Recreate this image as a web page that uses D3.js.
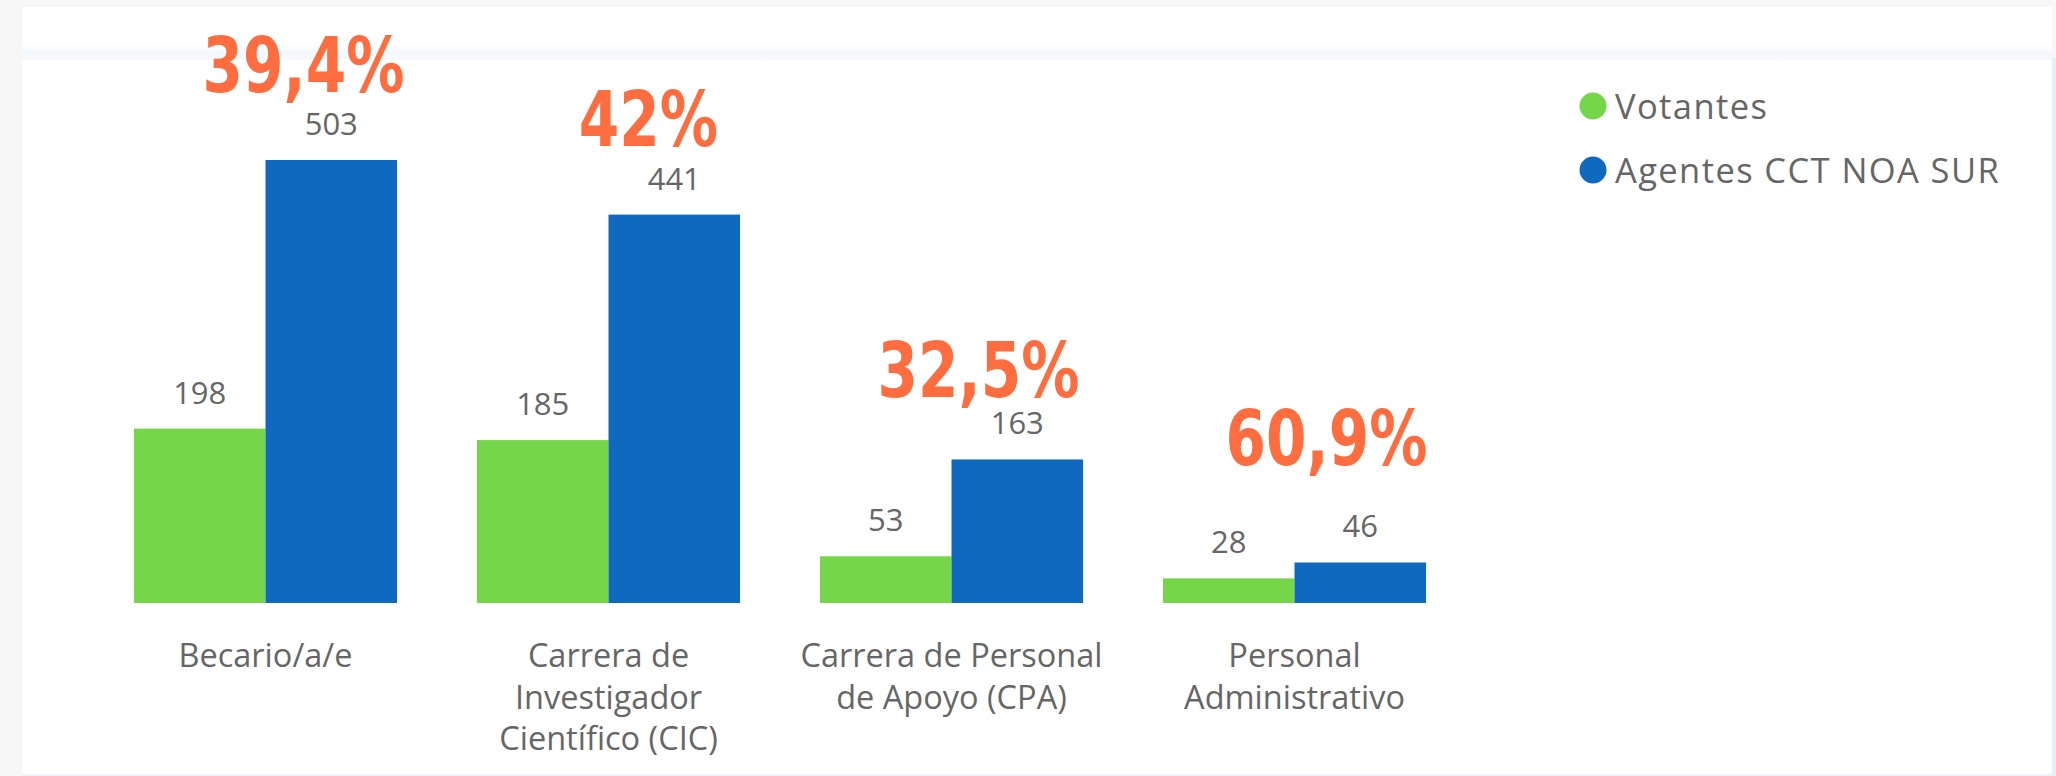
<!DOCTYPE html>
<html>
<head>
<meta charset="utf-8">
<script src="https://cdn.jsdelivr.net/npm/d3@7"></script>
<style>
	body { margin: 0; background: #f7f7f7; }
	svg { display: block; }
	.c-bars__label { font-family: "Open Sans", "Noto Sans", sans-serif; fill: #666; }
	.c-bars__cat { font-family: "Open Sans", "Noto Sans", sans-serif; fill: #666; }
	.c-bars__legend { font-family: "Open Sans", "Noto Sans", sans-serif; fill: #666; }
	.c-bars__pct { font-family: "Liberation Sans Narrow", "Arial Narrow", "DejaVu Sans Condensed", sans-serif; font-weight: bold; fill: #fd6d3f; }
</style>
</head>
<body>
<svg id="chart" width="2056" height="776"></svg>
<script>
//Chart values
var categories = ["Becario/a/e", "Carrera de Investigador Científico (CIC)", "Carrera de Personal de Apoyo (CPA)", "Personal Administrativo"];
var catLines = [["Becario/a/e"], ["Carrera de", "Investigador", "Científico (CIC)"], ["Carrera de Personal", "de Apoyo (CPA)"], ["Personal", "Administrativo"]];
var seriesNames = ["Votantes", "Agentes CCT NOA SUR"];
var votantes = [198, 185, 53, 28];
var agentes = [503, 441, 163, 46];
var pctLabels = ["39,4%", "42%", "32,5%", "60,9%"];

//Hand placed offsets of the percentage notes (from group centre / blue bar top)
var pctNudge = [[38, -68], [40, -69], [27, -62], [32, -97]];

var chart = {
	classPrefix: "c-bars",
	colors: ["#75d64a", "#0e69bf"],
	draw: function(){
		var self = this;
		var svg = d3.select("#chart");
		var width = 2056, height = 776;

		//Panel background
		var grad = svg.append("defs").append("linearGradient")
			.attr("id", "sep").attr("x1", 0).attr("y1", 0).attr("x2", 0).attr("y2", 1);
		grad.append("stop").attr("offset", "0%").attr("stop-color", "#fff");
		grad.append("stop").attr("offset", "60%").attr("stop-color", "#f3f7fb");
		grad.append("stop").attr("offset", "100%").attr("stop-color", "#f8fafd");

		svg.append("rect").attr("x", 22).attr("y", 7).attr("width", width - 26).attr("height", height - 7).attr("fill", "#fff");
		svg.append("rect").attr("x", 22).attr("y", 44).attr("width", width - 26).attr("height", 16).attr("fill", "url(#sep)");
		svg.append("rect").attr("x", width - 4).attr("y", 58).attr("width", 4).attr("height", height - 58).attr("fill", "#e4edf8");
		svg.append("rect").attr("x", 22).attr("y", height - 2).attr("width", width - 26).attr("height", 2).attr("fill", "#eef3f9");

		var rows = categories.map(function(c, i){
			return {key: c, i: i, vals: [votantes[i], agentes[i]]};
		});

		//Scales
		var baseline = 603;
		var xScale = d3.scaleBand()
			.domain(categories)
			.range([94, 1466])
			.paddingInner(0.233)
			.paddingOuter(0.1165);
		var xSub = d3.scaleBand()
			.domain([0, 1])
			.range([0, xScale.bandwidth()]);
		var yScale = d3.scaleLinear()
			.domain([0, 503])
			.range([baseline, 160]);

		//Bars
		var groups = svg.append("g")
			.attr("class", self.classPrefix + "__bars")
			.selectAll("g")
			.data(rows)
			.enter().append("g")
			.attr("transform", function(d){ return "translate(" + xScale(d.key) + ",0)"; });

		groups.selectAll("rect")
			.data(function(d){ return d.vals; })
			.enter().append("rect")
			.attr("x", function(d, j){ return xSub(j); })
			.attr("y", function(d){ return yScale(d); })
			.attr("width", xSub.bandwidth())
			.attr("height", function(d){ return yScale(0) - yScale(d); })
			.attr("fill", function(d, j){ return self.colors[j]; });

		//Data labels
		groups.selectAll("text")
			.data(function(d){ return d.vals; })
			.enter().append("text")
			.attr("class", self.classPrefix + "__label")
			.attr("x", function(d, j){ return xSub(j) + xSub.bandwidth() / 2; })
			.attr("y", function(d){ return yScale(d) - 25; })
			.attr("text-anchor", "middle")
			.attr("font-size", 31)
			.text(function(d){ return d; });

		//Category labels, wrapped like the original
		var cats = svg.append("g").selectAll("text")
			.data(rows)
			.enter().append("text")
			.attr("class", self.classPrefix + "__cat")
			.attr("text-anchor", "middle")
			.attr("font-size", 32.5)
			.attr("transform", function(d){ return "translate(" + (xScale(d.key) + xScale.bandwidth() / 2) + ",667)"; });
		cats.selectAll("tspan")
			.data(function(d){ return catLines[d.i]; })
			.enter().append("tspan")
			.attr("x", 0)
			.attr("y", function(d, k){ return k * 41.5; })
			.text(function(d){ return d; });

		//Percentage notes, squeezed to look condensed
		svg.append("g").selectAll("text")
			.data(rows)
			.enter().append("text")
			.attr("class", self.classPrefix + "__pct")
			.attr("text-anchor", "middle")
			.attr("font-size", 77)
			.attr("transform", function(d){
				var x = xScale(d.key) + xScale.bandwidth() / 2 + pctNudge[d.i][0];
				var y = yScale(agentes[d.i]) + pctNudge[d.i][1];
				return "translate(" + x + "," + y + ")scale(0.84,1)";
			})
			.text(function(d){ return pctLabels[d.i]; });

		//Legend
		var legend = svg.append("g")
			.attr("transform", "translate(1593,106)")
			.selectAll("g")
			.data(seriesNames)
			.enter().append("g")
			.attr("transform", function(d, j){ return "translate(0," + (j * 64) + ")"; });
		legend.append("circle")
			.attr("r", 13.5)
			.attr("fill", function(d, j){ return self.colors[j]; });
		legend.append("text")
			.attr("class", self.classPrefix + "__legend")
			.attr("x", 22)
			.attr("y", 13)
			.attr("font-size", 34.5)
			.attr("letter-spacing", 1.4)
			.text(function(d){ return d; });
	}
};

chart.draw();
</script>
</body>
</html>
